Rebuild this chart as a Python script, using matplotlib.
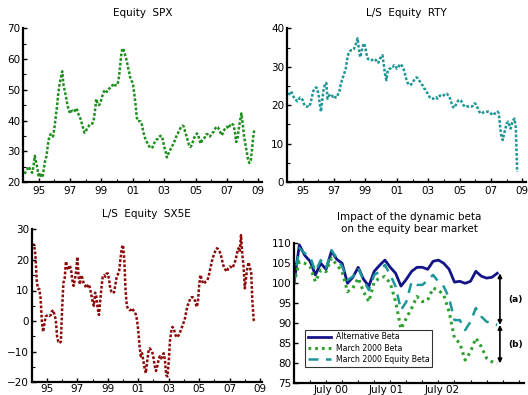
import numpy as np
import matplotlib
matplotlib.use("Agg")
import matplotlib.pyplot as plt

plt.rcParams['font.family'] = ['DejaVu Sans']

# Monthly rolling beta estimates (in %), first value is the start month
spx_start = 1994 + 1 / 12  # Feb 1994
spx = [22.7, 23.2, 23.8, 25, 24.5, 23.5, 23, 25, 28.5, 26.5, 24.5,
       21.6, 23, 21.5, 22, 24.5, 27, 28.5, 32, 34.5, 35.5, 35.5, 34.8,
       37.5, 41, 44.5, 49, 52, 54, 56, 51.5, 49.5, 47.5, 45, 43.4,
       42.3, 43, 43.2, 42.8, 43.4, 44, 42.5, 41.5, 40.5, 39, 37.5, 36,
       36.5, 37.4, 38, 38.7, 38.8, 39, 40, 43, 47, 45.5, 45, 45.5,
       47, 48.5, 49.5, 50, 49.3, 50, 50.4, 50.7, 51, 52, 51.5, 51.5,
       51.5, 53, 56.5, 61, 63.5, 63, 61.5, 60, 58, 56, 54, 53,
       52, 49, 45.5, 41, 39.8, 39.8, 39.7, 38.5, 36.3, 34.7, 33.6, 32.8,
       32, 31.2, 31, 31.3, 32.3, 33.2, 33.8, 34, 34.6, 35, 35, 33.6,
       31.4, 30, 28, 29, 30, 30.8, 31.6, 32.5, 33.4, 34.6, 35.5, 36.3,
       37.2, 38, 38.3, 38, 36.3, 35, 33.4, 32, 31.4, 32, 33.3, 34.5,
       35.2, 35.8, 35.3, 33.5, 32.5, 33.6, 34, 34.5, 35.5, 35.6, 35, 34.8,
       35.5, 36, 36.5, 37.4, 38, 37.8, 37, 36, 35.2, 36, 37, 37.6,
       38, 37.4, 38.2, 39, 38.8, 38.5, 36.5, 33, 34, 37.4, 40, 42.3,
       39, 35, 32.5, 30, 27.5, 26.2, 26.5, 30, 34.5, 37.4]

rty_start = 1994 + 1 / 12
rty = [22.7, 23, 23.6, 23, 22.2, 21.6, 21.3, 21, 21.5, 22, 21.8,
       21.3, 20.3, 19.7, 19.6, 19.7, 19.6, 20.5, 22, 23.6, 24.3, 24.6, 24.4,
       23, 20.5, 18.3, 21.5, 24, 25.5, 25.8, 21.7, 22.4, 22.8, 22.8, 22.2,
       22.5, 22, 22, 22.8, 23.5, 25.2, 26.5, 27.5, 28.5, 29.6, 32, 33.4,
       34, 34.3, 34.3, 34.5, 35.3, 36.3, 37.4, 34.5, 32.5, 34, 35.4, 36.1,
       34.7, 33, 32, 31.7, 31.7, 31.7, 32, 32, 31.7, 31, 31.1, 32,
       32.6, 33, 30.5, 28, 26.5, 29, 29.4, 29.5, 30, 30, 30.4, 30.2,
       29.5, 29.8, 30.4, 30.7, 30.2, 29.5, 28.5, 27, 26, 25.4, 25.2, 25.4,
       26, 26.4, 27, 27.2, 27, 26.5, 25.9, 25.4, 25, 24.3, 24, 23.3,
       22.8, 22.1, 21.7, 21.7, 21.7, 21.9, 22.1, 21.7, 22.1, 22.5, 22.4, 22.3,
       22.6, 23, 23, 22.7, 22.2, 21.5, 20.3, 19.5, 19.3, 20, 20.7, 21.2,
       21.4, 21.2, 20.5, 20, 19.6, 19.6, 19.7, 19.6, 19.6, 19.6, 19.8, 20.4,
       20.4, 19.8, 19.1, 18.3, 17.9, 17.8, 18.1, 18.3, 18.3, 18.3, 18.3, 18.2,
       17.8, 17.4, 17.7, 17.8, 17.9, 18.3, 17.8, 14.3, 11.7, 10.9, 12.6, 13.9,
       15.2, 15.7, 14.8, 13.9, 15.2, 16.1, 16.5, 14, 2.6]

sx5e_start = 1994.0
sx5e = [25, 25, 24.9, 21, 13, 10.5, 10.5, 7.5, 0, -3.5, -1, 1.5,
        1.8, 2, 1.7, 2, 3.2, 3.6, 2, 0.4, -5, -6.8, -7.2, -6.7,
        4.2, 12.5, 14, 19.5, 17.8, 16.7, 18.3, 16.8, 13.5, 11.5, 13.5, 16.2,
        21, 14.5, 12, 15, 14, 12.3, 11.8, 10.8, 11.5, 12, 10.7, 8.5,
        6.4, 5, 9.3, 8, 4.2, 2, 6.5, 11, 14.5, 15, 14.5, 15.5,
        15.6, 13.5, 10.5, 9.5, 9.1, 9.5, 12, 14.5, 15.3, 16.5, 20.5, 23.8,
        24.9, 20, 10, 5, 4, 3.6, 3.6, 4.2, 3.6, 3, 2.3, 0.4,
        -3, -8, -11.5, -10.5, -13, -15.4, -17, -13.3, -10, -8.9, -9.4, -10,
        -12, -14.6, -16.3, -14.8, -12.7, -11.5, -12.2, -11.7, -10.5, -12.5, -17.6, -18.1,
        -13.5, -6.5, -3.4, -1.9, -2.4, -4.1, -5.2, -5.2, -4.5, -3.6, -2.5, -1.5,
        -0.2, 1.2, 3.5, 5.2, 6, 7.5, 7.8, 7.8, 7.3, 6.4, 4.6, 6,
        11.5, 15.1, 13.8, 12.4, 12.2, 12.9, 13.2, 13.9, 15.6, 17.6, 19.5, 21,
        22, 23.3, 23.8, 23.5, 22.8, 21.8, 20, 18.3, 17.3, 16.6, 16.2, 17.3,
        17.8, 17.7, 17.3, 18, 19, 20.5, 22.5, 23.8, 22.7, 28.1, 22, 18,
        10.7, 14, 17.5, 19.2, 17.5, 16, 6.4, 0.4, -0.2]

# Bear market backtest, base 100 at the start
alt_beta = [100, 109.6, 107, 105.5, 102.1, 105, 103.5, 108, 106, 105,
            100, 101.5, 104, 101, 99.3, 103, 104.5, 105.8, 104, 102.5,
            99.3, 101, 103, 104, 104, 103.5, 105.5, 105.8, 105, 103.5,
            100.3, 100.5, 100, 100.5, 103, 101.8, 101.3, 101.5, 102.5]
mar2000_beta = [100, 105.4, 105, 104.2, 100.4, 103.3, 102.9, 106.3, 104.6, 102.9,
                97.9, 98.8, 101.3, 97.9, 95.4, 100.4, 101.3, 101.7, 100, 95.4,
                88.6, 91.3, 93.8, 96.7, 95.4, 95.8, 98.8, 98.3, 97.1, 92.9,
                86.3, 85, 80.8, 82.9, 86.3, 84.2, 81.3, 80.4, 80]
mar2000_eq_beta = [100, 108.8, 107.5, 106.7, 102.9, 105.8, 103.8, 108.3, 106.3, 104.2,
                   100.8, 101.7, 103.8, 100.8, 98.3, 102.1, 102.9, 104.6, 102.1, 99.2,
                   93.3, 95.4, 100.4, 99.6, 99.6, 100.8, 102.1, 100.4, 99.2, 96.3,
                   90.8, 90.8, 88.3, 90.4, 93.8, 91.7, 90.4, 90, 89.6]
bear_labels = ["July 00", "July 01", "July 02"]
bear_label_pos = [6.9, 17.2, 27.6]

year_ticks = [1995, 1997, 1999, 2001, 2003, 2005, 2007, 2009]
year_labels = ["95", "97", "99", "01", "03", "05", "07", "09"]

GREEN = "#1f8f1f"
TEAL = "#1c9696"
DARKRED = "#8c0b0b"
NAVY = "#141489"
LGREEN = "#2ea02e"

fig = plt.figure(figsize=(5.28, 3.95), dpi=100)
W, H = 528, 395


def add_ax(l, r, top, bot):
    return fig.add_axes([l / W, 1 - bot / H, (r - l) / W, (bot - top) / H])


def style(ax):
    for s in ("top", "right"):
        ax.spines[s].set_visible(False)
    for s in ("left", "bottom"):
        ax.spines[s].set_linewidth(1.6)
    ax.tick_params(labelsize=7.5, width=1.0, length=3, direction="in", pad=2)
    ax.tick_params(which="minor", width=0.8, length=2, direction="in")


def ts_panel(ax, start, vals, color, title, ylim, yticks, xlim):
    x = start + np.arange(len(vals)) / 12
    ax.plot(x, vals, color=color, lw=1.8, ls=(0, (1.1, 0.75)))
    ax.set_xlim(*xlim)
    ax.set_ylim(*ylim)
    ax.set_yticks(yticks)
    ax.set_xticks(year_ticks)
    ax.set_xticklabels(year_labels)
    ax.set_xticks(np.arange(1994, 2010), minor=True)
    ax.set_yticks(np.arange(ylim[0], ylim[1] + 0.1, (yticks[1] - yticks[0]) / 2), minor=True)
    ax.set_title(title, fontsize=7.5, pad=9)
    style(ax)
    ax.tick_params(axis="x", pad=3)


ax1 = add_ax(23, 262, 28.3, 182)
ts_panel(ax1, spx_start, spx, GREEN, "Equity  SPX", (20, 70), np.arange(20, 71, 10), (1994.02, 2009.23))

ax2 = add_ax(287, 526, 28.3, 182)
ts_panel(ax2, rty_start, rty, TEAL, "L/S  Equity  RTY", (0, 40), np.arange(0, 41, 10), (1994.02, 2009.23))

ax3 = add_ax(31.7, 262, 229.3, 382.3)
ts_panel(ax3, sx5e_start, sx5e, DARKRED, "L/S  Equity  SX5E", (-20, 30), np.arange(-20, 31, 10), (1994.0, 2009.13))
ax3.tick_params(axis="x", pad=1.5)

ax4 = add_ax(294, 524, 243.3, 383.3)
n = np.arange(len(alt_beta))
ax4.plot(n, alt_beta, color=NAVY, lw=2.0, label="Alternative Beta")
ax4.plot(n, mar2000_beta, color=LGREEN, lw=2.2, ls=(0, (0.9, 1.3)), label="March 2000 Beta")
ax4.plot(n, mar2000_eq_beta, color=TEAL, lw=1.8, ls=(0, (4, 3)), label="March 2000 Equity Beta")
ax4.set_xlim(0, 43)
ax4.set_ylim(75, 110)
ax4.set_yticks(np.arange(75, 111, 5))
ax4.set_xticks(bear_label_pos)
ax4.set_xticklabels(bear_labels)
ax4.set_xticks(np.arange(0, 43, 3), minor=True)
ax4.set_title("Impact of the dynamic beta\non the equity bear market", fontsize=7.5, pad=8, linespacing=1.3)
style(ax4)
ax4.tick_params(axis="x", which="major", length=0, pad=1.5)

xe = n[-1] + 0.5
for y0, y1, lab in ((alt_beta[-1], mar2000_eq_beta[-1], "(a)"),
                    (mar2000_eq_beta[-1], mar2000_beta[-1], "(b)")):
    ax4.annotate("", xy=(xe, y0), xytext=(xe, y1),
                 arrowprops=dict(arrowstyle="<|-|>", color="black", lw=1.2,
                                 mutation_scale=6, shrinkA=0, shrinkB=0))
    ax4.text(xe + 1.6, (y0 + y1) / 2, lab, fontsize=6.5, fontweight="bold", va="center")

leg = ax4.legend(loc="lower left", bbox_to_anchor=(0.03, 0.09), fontsize=5.6,
                 frameon=True, fancybox=False, edgecolor="black", handlelength=3.0,
                 borderpad=0.35, labelspacing=0.3, handletextpad=0.6)
leg.get_frame().set_linewidth(0.8)

fig.savefig("out.png", dpi=100)
